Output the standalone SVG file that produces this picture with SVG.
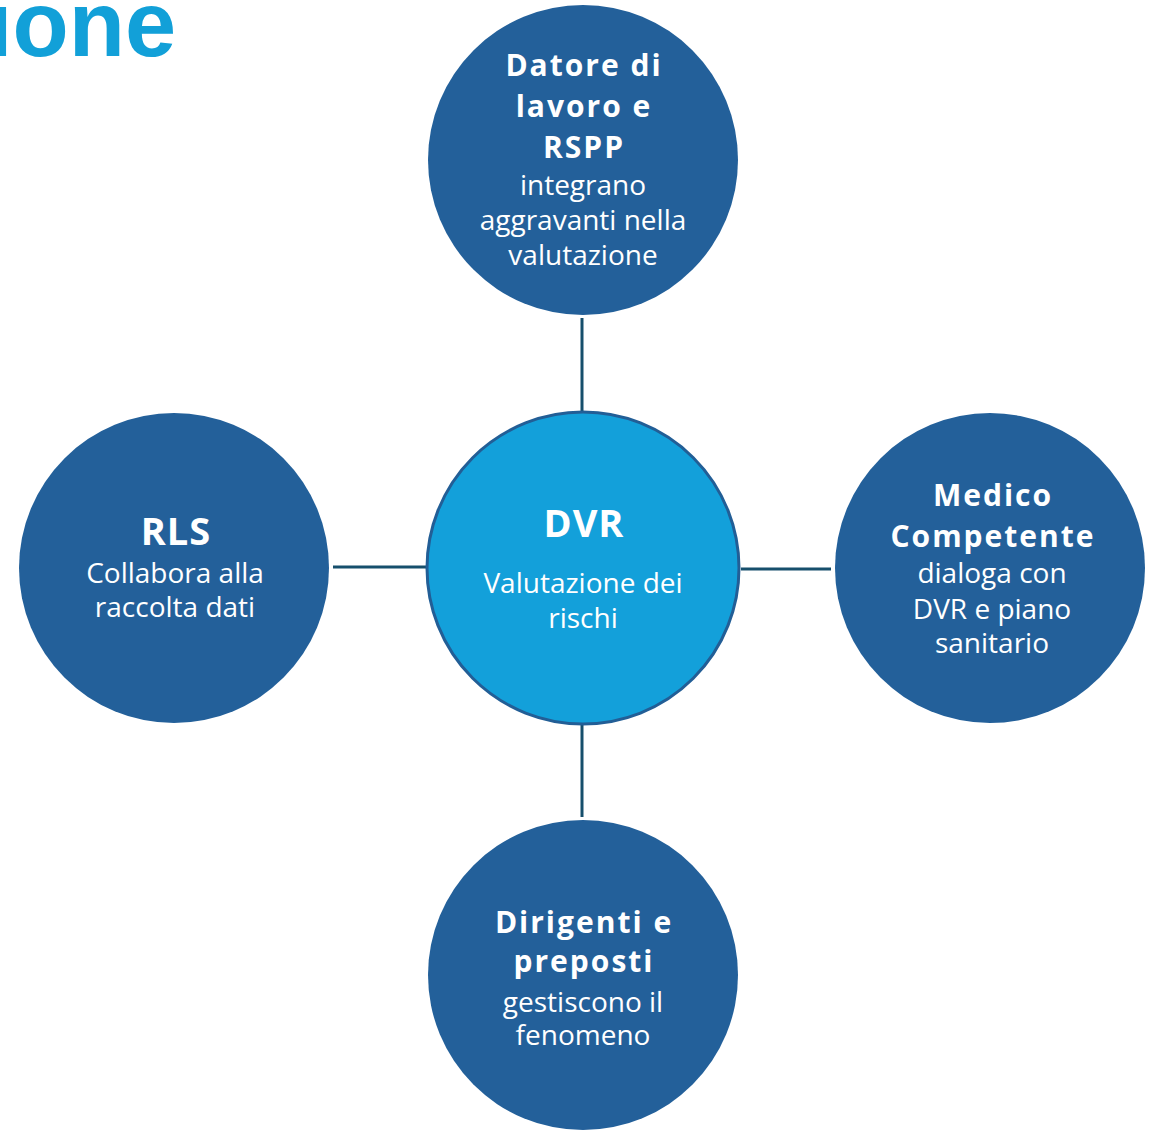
<svg xmlns="http://www.w3.org/2000/svg" width="1153" height="1130" viewBox="0 0 1153 1130">
<style>
.node{fill:#23609a}
.hub{fill:#13a0da;stroke:#225e96;stroke-width:3}
.conn line{stroke:#164f6c;stroke-width:3}
text{font-family:"Open Sans","Liberation Sans",sans-serif;fill:#ffffff;text-anchor:middle}
.b{font-weight:700;font-size:30px;letter-spacing:2px}
.r{font-size:28px}
.big{font-weight:700;font-size:38px;letter-spacing:1px}
.title{font-family:"Liberation Sans",Arial,sans-serif;font-weight:700;font-size:92px;fill:#12a0d8;text-anchor:start}
</style>
<rect width="1153" height="1130" fill="#ffffff"/>
<text class="title" x="-13" y="56">ione</text>
<g class="conn" id="connectors">
<line x1="582" y1="318" x2="582" y2="411"/>
<line x1="333" y1="567" x2="426" y2="567"/>
<line x1="741" y1="569" x2="831" y2="569"/>
<line x1="582" y1="725" x2="582" y2="817"/>
</g>
<g id="node-top">
<circle class="node" cx="583" cy="160" r="155"/>
<text class="b" x="584" y="76">Datore di</text>
<text class="b" x="584" y="117">lavoro e</text>
<text class="b" x="584" y="158">RSPP</text>
<text class="r" x="583" y="195">integrano</text>
<text class="r" x="583" y="230">aggravanti nella</text>
<text class="r" x="583" y="265">valutazione</text>
</g>
<g id="node-dvr">
<circle class="hub" cx="583" cy="568" r="156"/>
<text class="big" x="584" y="537">DVR</text>
<text class="r" x="583" y="593">Valutazione dei</text>
<text class="r" x="583" y="628">rischi</text>
</g>
<g id="node-rls">
<circle class="node" cx="174" cy="568" r="155"/>
<text class="big" x="176" y="545">RLS</text>
<text class="r" x="175" y="583">Collabora alla</text>
<text class="r" x="175" y="617">raccolta dati</text>
</g>
<g id="node-medico">
<circle class="node" cx="990" cy="568" r="155"/>
<text class="b" x="993" y="506">Medico</text>
<text class="b" x="993" y="547">Competente</text>
<text class="r" x="992" y="583">dialoga con</text>
<text class="r" x="992" y="619">DVR e piano</text>
<text class="r" x="992" y="653">sanitario</text>
</g>
<g id="node-dirigenti">
<circle class="node" cx="583" cy="975" r="155"/>
<text class="b" x="584" y="933">Dirigenti e</text>
<text class="b" x="584" y="972">preposti</text>
<text class="r" x="583" y="1012">gestiscono il</text>
<text class="r" x="583" y="1045">fenomeno</text>
</g>
</svg>
